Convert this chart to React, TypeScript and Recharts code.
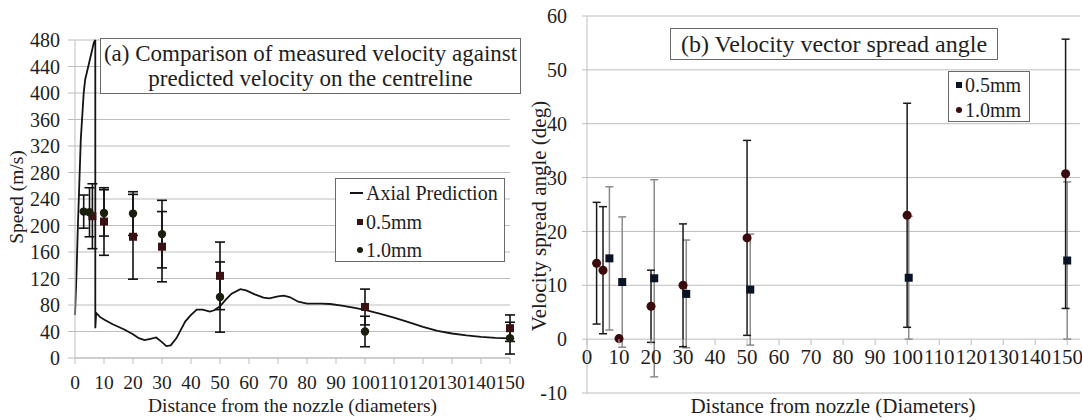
import React from 'react';
import { ComposedChart, Line, Scatter, XAxis, YAxis, CartesianGrid, ErrorBar, Legend } from 'recharts';

const FONT = '"Liberation Serif", "Times New Roman", Times, serif';
const GRID = '#bdbdbd';
const TEXT = '#1e1e1e';

// ---------- Panel (a): speed ----------
const predX = [0, 0.5, 1, 2, 3, 3.5, 5, 6.5, 7, 7, 7.3, 8.6, 10, 13, 17, 20, 22, 24, 26, 28, 30, 31.5, 33, 35, 38, 40, 42, 44, 46.5, 48, 50, 52, 54, 57, 59, 62, 65, 67, 70, 72, 74, 77, 80, 85, 88, 92, 96, 100, 105, 110, 115, 120, 125, 130, 135, 140, 145, 150];
const predSpeed = [65, 125, 200, 330, 400, 420, 448, 476, 480, 45, 68, 62, 58, 51, 43, 36, 30, 27, 29, 31, 24, 18, 19, 30, 55, 65, 73, 73, 70, 72, 78, 88, 97, 104, 102, 96, 91, 90, 93, 94, 92, 85, 82, 82, 81.5, 79, 76, 72.5, 67, 61, 54, 47, 41, 37, 34, 32, 30.5, 29.5];

const a05X = [6, 10, 20, 30, 50, 100, 150];
const a05Speed = [214, 206, 183, 168, 124, 77, 45];
const a05Err = [49, 51, 64, 53, 51, 27, 20];

const a10X = [3, 5, 10, 20, 30, 50, 100, 150];
const a10Speed = [221, 220, 219, 218, 187, 92, 40, 30];
const a10Err = [25, 37, 35, 33, 51, 53, 23, 24];

const aXTicks = [0, 10, 20, 30, 40, 50, 60, 70, 80, 90, 100, 110, 120, 130, 140, 150];
const aYTicks = [0, 40, 80, 120, 160, 200, 240, 280, 320, 360, 400, 440, 480];

const aTitle = ['(a) Comparison of measured velocity against', 'predicted velocity on the centreline'];
const aSeriesNames = ['Axial Prediction', '0.5mm', '1.0mm'];

// ---------- Panel (b): spread angle ----------
const b05X = [7, 11, 21, 31, 51, 100.5, 150];
const b05Angle = [15.0, 10.6, 11.3, 8.4, 9.2, 11.4, 14.6];
const b05Err = [13.3, 12.1, 18.3, 10.0, 10.3, 11.4, 14.6];

const b10X = [3, 5, 10, 20, 30, 50, 100, 149.5];
const b10Angle = [14.1, 12.8, 0.1, 6.1, 10.0, 18.8, 23.0, 30.7];
const b10Err = [11.3, 11.8, 0, 6.7, 11.4, 18.1, 20.8, 25.0];

const bXTicks = [0, 10, 20, 30, 40, 50, 60, 70, 80, 90, 100, 110, 120, 130, 140, 150];
const bYTicks = [-10, 0, 10, 20, 30, 40, 50, 60];
const bTitle = '(b) Velocity vector spread angle';
const bSeriesNames = ['0.5mm', '1.0mm'];

// colours
const A_PRED = '#141414';
const A_05 = '#3a1214';
const A_10 = '#1b1f0e';
const B_05 = '#0b1424';
const B_10 = '#3a0a0c';

const predData = predX.map((x, i) => ({ x, y: predSpeed[i] }));
const a05Data = a05X.map((x, i) => ({ x, y: a05Speed[i], e: a05Err[i] }));
const a10Data = a10X.map((x, i) => ({ x, y: a10Speed[i], e: a10Err[i] }));
const b05Data = b05X.map((x, i) => ({ x, y: b05Angle[i], e: b05Err[i] }));
const b10Data = b10X.map((x, i) => ({ x, y: b10Angle[i], e: b10Err[i] }));

const squareShape = (color: string, s: number) => (p: any) =>
  p.cx == null ? <g /> : <rect x={p.cx - s / 2} y={p.cy - s / 2} width={s} height={s} fill={color} />;
const circleShape = (color: string, r: number) => (p: any) =>
  p.cx == null ? <g /> : <circle cx={p.cx} cy={p.cy} r={r} fill={color} />;

// right panel geometry
const B_LEFT = 515;
const B_W = 1082 - B_LEFT;
const B_H = 420;
const B_MARGIN = { top: 16, right: 2, bottom: 0, left: 0 };
const B_YW = 72;
const B_XH = 27;
const B_YMIN = -10;
const B_YMAX = 60;
const B_PLOT_H = B_H - B_MARGIN.top - B_MARGIN.bottom - B_XH;
const B_ZERO_SHIFT = (B_PLOT_H * (0 - B_YMIN)) / (B_YMAX - B_YMIN);

const BXTick = (props: any) => {
  const { x, y, payload } = props;
  const y0 = y - B_ZERO_SHIFT;
  return (
    <g>
      <line x1={x} x2={x} y1={y0} y2={y0 + 6} stroke={GRID} />
      <text x={x} y={y0 + 10} dy="0.71em" textAnchor="middle" fontSize={21} fontFamily={FONT} fill={TEXT}>
        {payload.value}
      </text>
    </g>
  );
};

const LegendBox = ({ items, style }: { items: { name: string; kind: string; color: string }[]; style: any }) => (
  <div
    style={{
      boxSizing: 'border-box',
      border: '1px solid #6a6a6a',
      background: '#fff',
      fontFamily: FONT,
      fontSize: 20,
      color: TEXT,
      width: '100%',
      height: '100%',
      paddingTop: style.paddingTop,
    }}
  >
    {items.map((it) => (
      <div key={it.name} style={{ display: 'flex', alignItems: 'center', height: style.rowH, lineHeight: 1 }}>
        <span style={{ width: style.markW, display: 'flex', justifyContent: 'flex-end', paddingRight: 3, flexShrink: 0 }}>
          {it.kind === 'line' && <span style={{ display: 'inline-block', width: 13, height: 2, background: it.color }} />}
          {it.kind === 'square' && <span style={{ display: 'inline-block', width: 6, height: 6, background: it.color }} />}
          {it.kind === 'circle' && (
            <span style={{ display: 'inline-block', width: 6, height: 6, borderRadius: 3, background: it.color }} />
          )}
        </span>
        <span>{it.name}</span>
      </div>
    ))}
  </div>
);

const aLegendItems = [
  { name: aSeriesNames[0], kind: 'line', color: A_PRED },
  { name: aSeriesNames[1], kind: 'square', color: A_05 },
  { name: aSeriesNames[2], kind: 'circle', color: A_10 },
];
const bLegendItems = [
  { name: bSeriesNames[0], kind: 'square', color: B_05 },
  { name: bSeriesNames[1], kind: 'circle', color: B_10 },
];

const tickStyleA = { fontSize: 20, fontFamily: FONT, fill: TEXT };
const xTickStyleA = { fontSize: 19.5, fontFamily: FONT, fill: TEXT };

export default function App() {
  return (
    <div
      style={{
        position: 'absolute',
        left: 0,
        top: 0,
        width: 1082,
        height: 420,
        background: '#fff',
        overflow: 'hidden',
        fontFamily: FONT,
      }}
    >
      {/* Panel (a) */}
      <div style={{ position: 'absolute', left: 0, top: 0 }}>
        <ComposedChart width={530} height={420} margin={{ top: 40, right: 20, bottom: 32, left: 0 }}>
          <CartesianGrid horizontal vertical={false} stroke={GRID} />
          <XAxis
            type="number"
            dataKey="x"
            domain={[0, 150]}
            ticks={aXTicks}
            interval={0}
            height={30}
            stroke={GRID}
            tickSize={6}
            tickMargin={11}
            tick={xTickStyleA}
            label={{
              content: (p: any) => {
                const vb = p.viewBox;
                return (
                  <text x={vb.x + vb.width / 2} y={vb.y + 54} textAnchor="middle" fontSize={19.5} fontFamily={FONT} fill={TEXT}>
                    Distance from the nozzle (diameters)
                  </text>
                );
              },
            }}
          />
          <YAxis
            type="number"
            domain={[0, 480]}
            ticks={aYTicks}
            interval={0}
            width={75}
            stroke={GRID}
            tickSize={7}
            tickMargin={8}
            tick={tickStyleA}
            label={{
              content: (p: any) => {
                const vb = p.viewBox;
                const cx = vb.x + 16;
                const cy = vb.y + vb.height / 2 - 2;
                return (
                  <text x={cx} y={cy} transform={`rotate(-90 ${cx} ${cy})`} textAnchor="middle" dominantBaseline="central" fontSize={19.5} fontFamily={FONT} fill={TEXT}>
                    Speed (m/s)
                  </text>
                );
              },
            }}
          />
          <Line
            data={predData}
            dataKey="y"
            name={aSeriesNames[0]}
            type="linear"
            stroke={A_PRED}
            strokeWidth={1.8}
            dot={false}
            activeDot={false}
            isAnimationActive={false}
          />
          <Scatter data={a05Data} dataKey="y" name={aSeriesNames[1]} shape={squareShape(A_05, 8)} isAnimationActive={false}>
            <ErrorBar dataKey="e" direction="y" width={5} stroke="#111" strokeWidth={1.6} />
          </Scatter>
          <Scatter data={a10Data} dataKey="y" name={aSeriesNames[2]} shape={circleShape(A_10, 4.2)} isAnimationActive={false}>
            <ErrorBar dataKey="e" direction="y" width={5} stroke="#111" strokeWidth={1.6} />
          </Scatter>
          <Legend
            layout="vertical"
            align="center"
            verticalAlign="middle"
            wrapperStyle={{ position: 'absolute', left: 335, top: 178, width: 170, height: 84, margin: 0 }}
            content={() => <LegendBox items={aLegendItems} style={{ rowH: 28.5, markW: 27, paddingTop: 0 }} />}
          />
        </ComposedChart>
      </div>

      {/* Panel (b) */}
      <div style={{ position: 'absolute', left: B_LEFT, top: 0 }}>
        <ComposedChart width={B_W} height={B_H} margin={B_MARGIN}>
          <CartesianGrid horizontal vertical={false} stroke={GRID} />
          <XAxis
            type="number"
            dataKey="x"
            domain={[0, 154]}
            ticks={bXTicks}
            interval={0}
            height={B_XH}
            axisLine={false}
            tickLine={false}
            tickSize={0}
            tickMargin={0}
            tick={<BXTick />}
            label={{
              content: (p: any) => {
                const vb = p.viewBox;
                return (
                  <text x={vb.x + 246} y={vb.y + 20} textAnchor="middle" fontSize={21} fontFamily={FONT} fill={TEXT}>
                    Distance from nozzle (Diameters)
                  </text>
                );
              },
            }}
          />
          <YAxis
            type="number"
            domain={[B_YMIN, B_YMAX]}
            ticks={bYTicks}
            interval={0}
            width={B_YW}
            stroke={GRID}
            tickSize={5}
            tickMargin={15}
            tick={{ fontSize: 20, fontFamily: FONT, fill: TEXT }}
            label={{
              content: (p: any) => {
                const vb = p.viewBox;
                const cx = vb.x + 24;
                const cy = 216;
                return (
                  <text x={cx} y={cy} transform={`rotate(-90 ${cx} ${cy})`} textAnchor="middle" dominantBaseline="central" fontSize={21} fontFamily={FONT} fill={TEXT}>
                    Velocity spread angle (deg)
                  </text>
                );
              },
            }}
          />
          <Scatter data={b05Data} dataKey="y" name={bSeriesNames[0]} shape={squareShape(B_05, 8)} isAnimationActive={false}>
            <ErrorBar dataKey="e" direction="y" width={4} stroke="#8a8a8a" strokeWidth={1.5} />
          </Scatter>
          <Scatter data={b10Data} dataKey="y" name={bSeriesNames[1]} shape={circleShape(B_10, 4.5)} isAnimationActive={false}>
            <ErrorBar dataKey="e" direction="y" width={4} stroke="#1a1a1a" strokeWidth={1.5} />
          </Scatter>
          <Legend
            layout="vertical"
            align="center"
            verticalAlign="middle"
            wrapperStyle={{ position: 'absolute', left: 948 - B_LEFT, top: 71, width: 82, height: 51, margin: 0 }}
            content={() => <LegendBox items={bLegendItems} style={{ rowH: 24.5, markW: 13, paddingTop: 1 }} />}
          />
        </ComposedChart>
      </div>

      {/* Panel titles */}
      <div
        style={{
          position: 'absolute',
          left: 100,
          top: 38,
          width: 421,
          height: 56,
          boxSizing: 'border-box',
          border: '1px solid #6a6a6a',
          background: '#fff',
          fontSize: 23,
          color: TEXT,
          textAlign: 'center',
          lineHeight: '25px',
          paddingTop: 2,
          whiteSpace: 'nowrap',
        }}
      >
        <div>{aTitle[0]}</div>
        <div>{aTitle[1]}</div>
      </div>
      <div
        style={{
          position: 'absolute',
          left: 670,
          top: 28,
          width: 328,
          height: 32,
          boxSizing: 'border-box',
          border: '1px solid #6a6a6a',
          background: '#fff',
          fontSize: 24,
          color: TEXT,
          textAlign: 'center',
          lineHeight: '30px',
          whiteSpace: 'nowrap',
        }}
      >
        {bTitle}
      </div>
    </div>
  );
}
